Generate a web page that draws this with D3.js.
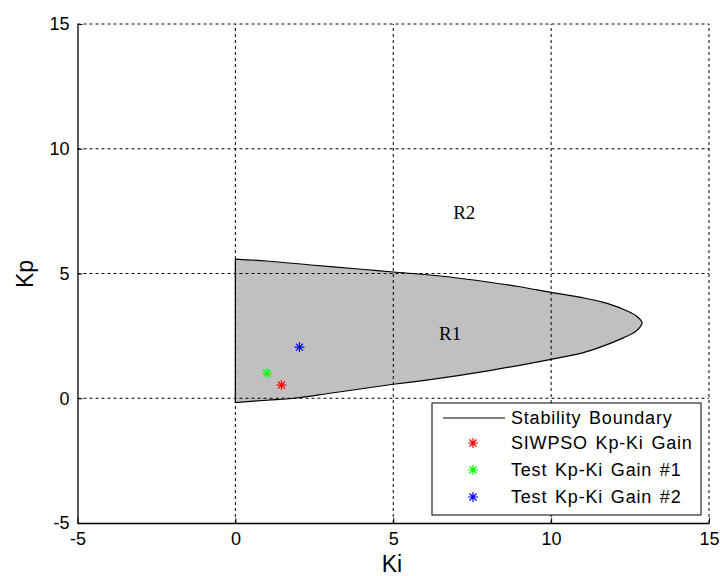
<!DOCTYPE html>
<html>
<head>
<meta charset="utf-8">
<script src="https://cdn.jsdelivr.net/npm/d3@7"></script>
<style>
  html, body { margin: 0; padding: 0; background: #fff; }
  svg { display: block; }
</style>
</head>
<body>
<svg id="chart" width="720" height="576"></svg>
<script>
// Stability boundary in the Ki-Kp plane: upper branch (Ki rising), then lower branch back to Ki = 0
const upperKi = [0, 1, 2.5, 4, 5, 6.5, 8, 9, 10, 11, 11.6, 12.3, 12.7, 12.88];
const upperKp = [5.58, 5.5, 5.33, 5.17, 5.06, 4.9, 4.66, 4.47, 4.24, 4.03, 3.86, 3.56, 3.3, 3.03];
const lowerKi = [12.7, 12.3, 11.6, 11, 10, 9, 8, 7, 6, 5, 4, 3, 1.88, 1, 0];
const lowerKp = [2.7, 2.43, 2.07, 1.82, 1.56, 1.32, 1.1, 0.9, 0.72, 0.56, 0.38, 0.2, 0, -0.08, -0.17];

// Gain points
const gainNames = ["SIWPSO Kp-Ki Gain", "Test Kp-Ki Gain #1", "Test Kp-Ki Gain #2"];
const gainKi = [1.46, 1.0, 2.03];
const gainKp = [0.53, 1.0, 2.05];
const gainColors = ["#ff0000", "#00ff00", "#0000ff"];

// Axis ticks
const xTicks = [-5, 0, 5, 10, 15];
const yTicks = [-5, 0, 5, 10, 15];

// Region labels
const regionNames = ["R1", "R2"];
const regionKi = [6.8, 7.25];
const regionKp = [2.6, 7.45];

const svg = d3.select("#chart");
const x = d3.scaleLinear().domain([-5, 15]).range([77.5, 709]);
const y = d3.scaleLinear().domain([-5, 15]).range([523, 24]);

// Boundary polygon (smooth branches, straight edge along Ki = 0)
const boundary = upperKi.map((k, i) => [k, upperKp[i]])
  .concat(lowerKi.map((k, i) => [k, lowerKp[i]]));
const line = d3.line().x(d => x(d[0])).y(d => y(d[1])).curve(d3.curveCatmullRom.alpha(0.5));

svg.append("path")
  .attr("d", line(boundary) + "Z")
  .attr("fill", "#c0c0c0")
  .attr("stroke", "#000")
  .attr("stroke-width", 1.2);

// Dashed grid
const grid = svg.append("g").attr("stroke", "#000").attr("stroke-width", 1)
  .attr("stroke-dasharray", "3,3").attr("fill", "none");
xTicks.filter(t => t > -5).forEach(t => {
  grid.append("line").attr("x1", x(t)).attr("x2", x(t)).attr("y1", y(-5)).attr("y2", y(15));
});
yTicks.filter(t => t > -5).forEach(t => {
  grid.append("line").attr("x1", x(-5)).attr("x2", x(15)).attr("y1", y(t)).attr("y2", y(t));
});

// Axes
const font = "Arial, 'Liberation Sans', sans-serif";
const fmt = d => String(d);
const xAxis = d3.axisBottom(x).tickValues(xTicks).tickFormat(fmt)
  .tickSizeInner(-5).tickSizeOuter(0).tickPadding(9);
const yAxis = d3.axisLeft(y).tickValues(yTicks).tickFormat(fmt)
  .tickSizeInner(-5).tickSizeOuter(0).tickPadding(8);

const gx = svg.append("g").attr("transform", `translate(0,${y(-5)})`).call(xAxis);
const gy = svg.append("g").attr("transform", `translate(${x(-5)},0)`).call(yAxis);
[gx, gy].forEach(g => {
  g.select(".domain").attr("stroke", "#000").attr("stroke-width", 1.3);
  g.selectAll(".tick line").attr("stroke", "#000");
  g.selectAll("text").attr("font-family", font).attr("font-size", 18).attr("fill", "#000");
});

// Axis titles
svg.append("text").attr("x", 392).attr("y", 572).attr("text-anchor", "middle")
  .attr("font-family", font).attr("font-size", 23).text("Ki");
svg.append("text").attr("transform", "translate(33,274) rotate(-90)").attr("text-anchor", "middle")
  .attr("font-family", font).attr("font-size", 23).text("Kp");

// Region labels
regionNames.forEach((name, i) => {
  svg.append("text").attr("x", x(regionKi[i])).attr("y", y(regionKp[i])).attr("dy", "0.35em")
    .attr("text-anchor", "middle").attr("font-family", "'Liberation Serif', 'Times New Roman', serif")
    .attr("font-size", 19).text(name);
});

// Asterisk marker path centred at (cx, cy)
function asterisk(cx, cy, r) {
  const d = r * Math.SQRT1_2;
  return `M${cx - r},${cy}L${cx + r},${cy}M${cx},${cy - r}L${cx},${cy + r}` +
    `M${cx - d},${cy - d}L${cx + d},${cy + d}M${cx - d},${cy + d}L${cx + d},${cy - d}`;
}

gainKi.forEach((k, i) => {
  svg.append("path").attr("d", asterisk(x(k), y(gainKp[i]), 5))
    .attr("stroke", gainColors[i]).attr("stroke-width", 1.2).attr("fill", "none");
});

// Legend
const legend = svg.append("g");
legend.append("rect").attr("x", 432).attr("y", 403).attr("width", 269).attr("height", 112)
  .attr("fill", "#fff").attr("stroke", "#000").attr("stroke-width", 1);
const rowY = [418, 443, 470, 497];
const legendText = (yy, label) => legend.append("text").attr("x", 511).attr("y", yy).attr("dy", "0.35em")
  .attr("font-family", font).attr("font-size", 18)
  .attr("letter-spacing", 0.8).attr("word-spacing", 2).text(label);
legend.append("line").attr("x1", 443).attr("x2", 505).attr("y1", rowY[0]).attr("y2", rowY[0])
  .attr("stroke", "#000").attr("stroke-width", 1);
legendText(rowY[0], "Stability Boundary");
gainNames.forEach((name, i) => {
  legend.append("path").attr("d", asterisk(473, rowY[i + 1], 5))
    .attr("stroke", gainColors[i]).attr("stroke-width", 1.2).attr("fill", "none");
  legendText(rowY[i + 1], name);
});
</script>
</body>
</html>
